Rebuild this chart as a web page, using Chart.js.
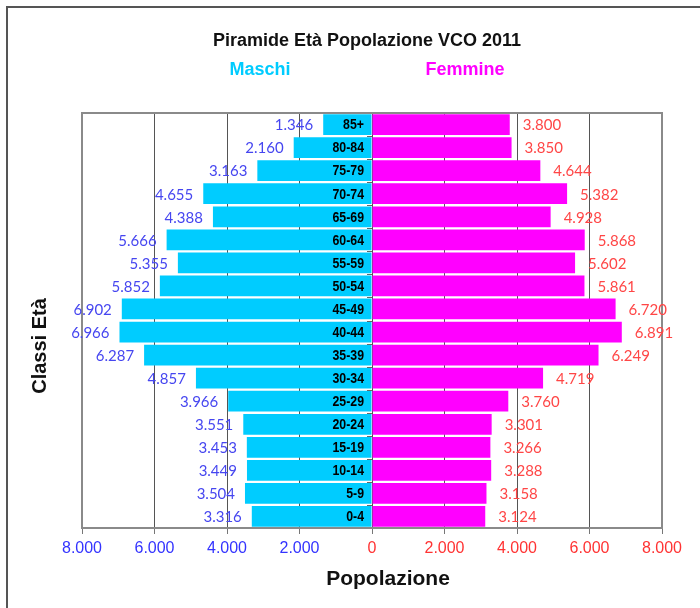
<!DOCTYPE html>
<html>
<head>
<meta charset="utf-8">
<script src="https://cdn.jsdelivr.net/npm/chart.js@4/dist/chart.umd.min.js"></script>
<style>
  html, body { margin: 0; padding: 0; background: #fff; }
  #wrap { width: 700px; height: 608px; position: relative; }
</style>
</head>
<body>
<div id="wrap"><canvas id="c" width="700" height="608"></canvas></div>
<script>
const classes = ["85+","80-84","75-79","70-74","65-69","60-64","55-59","50-54","45-49","40-44","35-39","30-34","25-29","20-24","15-19","10-14","5-9","0-4"];
const maschi  = [1346,2160,3163,4655,4388,5666,5355,5852,6902,6966,6287,4857,3966,3551,3453,3449,3504,3316];
const femmine = [3800,3850,4644,5382,4928,5868,5602,5861,6720,6891,6249,4719,3760,3301,3266,3288,3158,3124];
const xTicks = [-8000,-6000,-4000,-2000,0,2000,4000,6000,8000];

const titleText = "Piramide Età Popolazione VCO 2011";
const xTitle = "Popolazione";
const yTitle = "Classi Età";

function fmt(v) {
  return String(Math.abs(v)).replace(/\B(?=(\d{3})+(?!\d))/g, ".");
}

const BLUE_TXT = "#4646f0";
const RED_TXT = "#ff4646";

const decor = {
  id: "decor",
  beforeDraw(chart) {
    const ctx = chart.ctx;
    ctx.save();
    ctx.fillStyle = "#fff";
    ctx.fillRect(0, 0, chart.width, chart.height);
    ctx.strokeStyle = "#555";
    ctx.lineWidth = 2;
    ctx.strokeRect(7, 7, 800, 800);
    ctx.restore();
  },
  afterDatasetsDraw(chart) {
    const ctx = chart.ctx;
    const ca = chart.chartArea;
    const xs = chart.scales.x;
    const x0 = xs.getPixelForValue(0);
    ctx.save();
    // frame
    ctx.strokeStyle = "#8a8a8a";
    ctx.lineWidth = 2;
    ctx.strokeRect(ca.left, ca.top, ca.right - ca.left, ca.bottom - ca.top);

    // small category ticks on the zero axis
    ctx.strokeStyle = "#666";
    ctx.lineWidth = 1;
    const step = (ca.bottom - ca.top) / classes.length;
    for (let i = 1; i < classes.length; i++) {
      const y = Math.round(ca.top + i * step) + 0.5;
      ctx.beginPath();
      ctx.moveTo(x0 - 5, y);
      ctx.lineTo(x0, y);
      ctx.stroke();
    }

    const mMeta = chart.getDatasetMeta(0);
    const fMeta = chart.getDatasetMeta(1);
    // age class labels (slightly condensed bold)
    ctx.fillStyle = "#000";
    ctx.font = "bold 14px 'Liberation Sans', Arial, sans-serif";
    ctx.textAlign = "right";
    ctx.textBaseline = "middle";
    mMeta.data.forEach((bar, i) => {
      ctx.save();
      ctx.translate(x0 - 8, bar.y + 1);
      ctx.scale(0.88, 1);
      ctx.fillText(classes[i], 0, 0);
      ctx.restore();
    });
    // male values
    ctx.font = "15px Lato, sans-serif";
    ctx.fillStyle = BLUE_TXT;
    ctx.textAlign = "right";
    mMeta.data.forEach((bar, i) => {
      ctx.fillText(fmt(maschi[i]), bar.x - 10, bar.y + 1);
    });
    // female values
    ctx.fillStyle = RED_TXT;
    ctx.textAlign = "left";
    fMeta.data.forEach((bar, i) => {
      ctx.fillText(fmt(femmine[i]), bar.x + 13, bar.y + 1);
    });

    // titles
    ctx.textAlign = "center";
    ctx.textBaseline = "middle";
    ctx.fillStyle = "#111";
    ctx.font = "bold 18px 'Liberation Sans', Arial, sans-serif";
    ctx.fillText(titleText, 367, 41);
    ctx.fillStyle = "#00ccff";
    ctx.fillText("Maschi", 260, 70);
    ctx.fillStyle = "#ff00ff";
    ctx.fillText("Femmine", 465, 70);
    ctx.fillStyle = "#111";
    ctx.font = "bold 21px 'Liberation Sans', Arial, sans-serif";
    ctx.fillText(xTitle, 388, 579);
    ctx.translate(40, 346);
    ctx.rotate(-Math.PI / 2);
    ctx.font = "bold 20px 'Liberation Sans', Arial, sans-serif";
    ctx.fillText(yTitle, 0, 0);
    ctx.restore();
  }
};

new Chart(document.getElementById("c"), {
  type: "bar",
  data: {
    labels: classes,
    datasets: [
      { label: "Maschi", data: maschi.map(v => -v), backgroundColor: "#00ccff", borderWidth: 0, barPercentage: 0.9, categoryPercentage: 1 },
      { label: "Femmine", data: femmine, backgroundColor: "#ff00ff", borderWidth: 0, barPercentage: 0.9, categoryPercentage: 1 }
    ]
  },
  options: {
    indexAxis: "y",
    responsive: false,
    animation: false,
    layout: { padding: { left: 82, right: 38, top: 113, bottom: 0 } },
    plugins: { legend: { display: false }, title: { display: false }, tooltip: { enabled: false } },
    scales: {
      x: {
        stacked: true,
        min: -8000, max: 8000,
        afterBuildTicks(scale) { scale.ticks = xTicks.map(v => ({ value: v })); },
        afterFit(scale) { scale.height = 80; },
        grid: { color: "#555", lineWidth: 1, tickLength: 6, tickColor: "#777" },
        border: { display: false },
        ticks: {
          padding: 5,
          maxRotation: 0,
          font: { family: "'Liberation Sans', Arial, sans-serif", size: 16 },
          color: (ctx) => (ctx.tick && ctx.tick.value < 0) ? "#3333ff" : "#ff3333",
          callback: (v) => fmt(v)
        }
      },
      y: {
        stacked: true,
        afterFit(scale) { scale.width = 0; },
        ticks: { display: false },
        grid: { display: false },
        border: { display: false }
      }
    }
  },
  plugins: [decor]
});
</script>
</body>
</html>
